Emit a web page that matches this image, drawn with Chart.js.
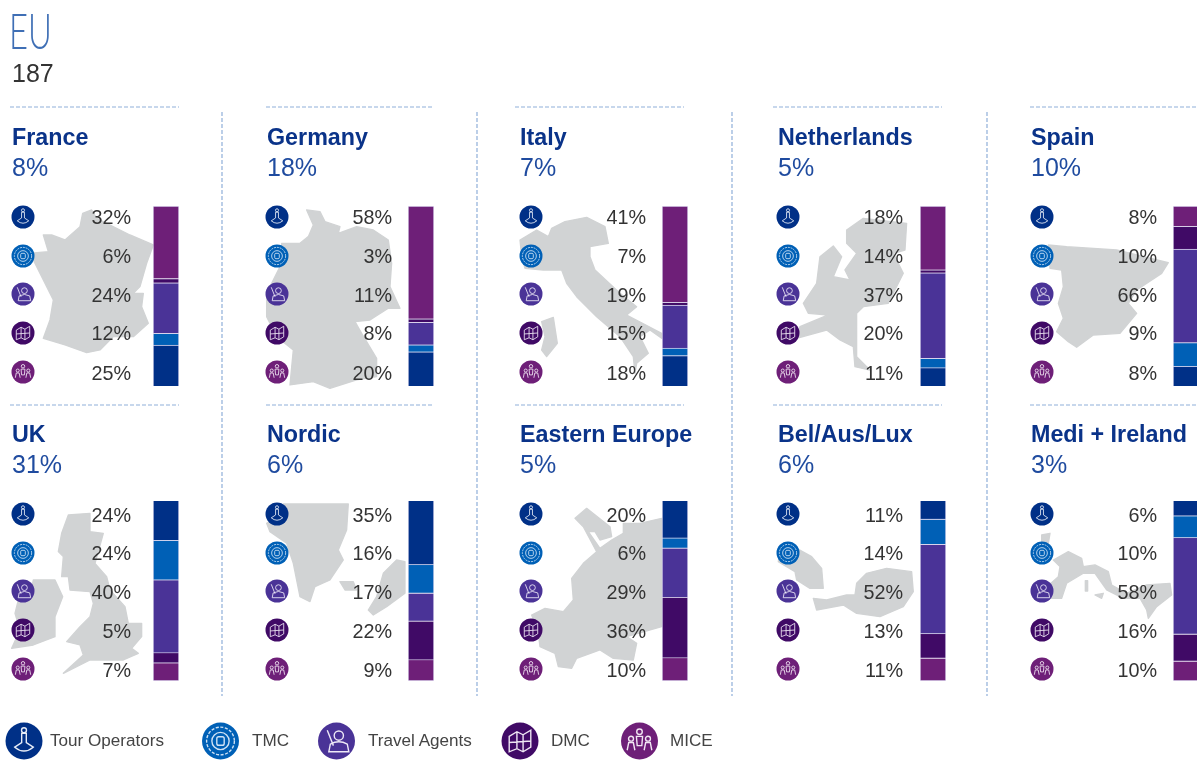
<!DOCTYPE html>
<html>
<head>
<meta charset="utf-8">
<title>EU 187</title>
<script src="https://cdn.jsdelivr.net/npm/chart.js@4"></script>
<style>
  html, body { margin: 0; padding: 0; width: 1197px; height: 760px; overflow: hidden; background: #fff; }
  body { position: relative; font-family: "Liberation Sans", Arial, sans-serif; }
  .t { position: absolute; white-space: nowrap; height: 30px; line-height: 30px; filter: blur(0.35px); }
  .name { font-size: 23.3px; font-weight: bold; color: #0a3389; }
  .share { font-size: 25px; color: #1f4b9f; }
  .pct { font-size: 19.8px; color: #333; text-align: right; width: 60px; }
  .leg { font-size: 17.1px; color: #444; }
  canvas { position: absolute; display: block; filter: blur(0.3px); }
  svg.layer { position: absolute; left: 0; top: 0; filter: blur(0.35px); }
  #eu { position: absolute; left: 9px; top: 6px; height: 48px; font-family: Lato, "Open Sans", sans-serif; font-weight: 300; font-size: 49px; line-height: 48px; color: #3f6fb5; transform-origin: left top; transform: scaleX(.67); }
  #total { left: 12px; top: 58px; font-size: 25px; color: #333; }
</style>
</head>
<body>
<svg class="layer" width="1197" height="760" id="back"></svg>
<div id="eu">EU</div>
<div id="total" class="t">187</div>
<svg class="layer" width="1197" height="760" id="front">
  <defs>
    <symbol id="ico0" viewBox="-12 -12 24 24" overflow="visible">
      <g fill="none" stroke="#e6ecf7" stroke-width="0.9">
        <circle cx="0" cy="-7" r="1.6"/><path d="M-1.5 -5 L-1.5 1 L-6 4 Q0 9 6 4 L1.5 1 L1.5 -5 Z"/>
      </g>
    </symbol>
    <symbol id="ico1" viewBox="-12 -12 24 24" overflow="visible">
      <g fill="none" stroke="#cfe2f5" stroke-width="0.9">
        <circle r="9" stroke-dasharray="2 1"/><circle r="5.6"/><rect x="-2.4" y="-2.8" width="4.8" height="5.6" rx="1.2"/>
      </g>
    </symbol>
    <symbol id="ico2" viewBox="-12 -12 24 24" overflow="visible">
      <g fill="none" stroke="#eee9f7" stroke-width="0.9">
        <circle cx="1.5" cy="-3.5" r="3"/><path d="M-5 7 L-4 2 Q1.5 -1 7 2 L8 7 Z"/><path d="M-6 -7 L-2 3"/>
      </g>
    </symbol>
    <symbol id="ico3" viewBox="-12 -12 24 24" overflow="visible">
      <g fill="none" stroke="#eee6f3" stroke-width="0.9">
        <path d="M-7 -3 L-2 -6 L2 -4 L7 -7 L7 4 L2 7 L-2 5 L-7 7 Z M-2 -6 L-2 5 M2 -4 L2 7 M-7 1 L7 0"/>
      </g>
    </symbol>
    <symbol id="ico4" viewBox="-12 -12 24 24" overflow="visible">
      <g fill="none" stroke="#f1e6f3" stroke-width="0.9">
        <circle cx="0" cy="-6" r="1.8"/><circle cx="-5.5" cy="-1.5" r="1.6"/><circle cx="5.5" cy="-1.5" r="1.6"/>
        <path d="M-2 -3 L2 -3 L1.5 3 L-1.5 3 Z M-8 6 L-7 1 L-4 1 L-3 6 M3 6 L4 1 L7 1 L8 6"/>
      </g>
    </symbol>
  </defs>
</svg>

<script>
// values
const regions = ['France', 'Germany', 'Italy', 'Netherlands', 'Spain', 'UK', 'Nordic', 'Eastern Europe', 'Bel/Aus/Lux', 'Medi + Ireland'];
const regionShares = ['8%', '18%', '7%', '5%', '10%', '31%', '6%', '5%', '6%', '3%'];
const channels = ['Tour Operators', 'TMC', 'Travel Agents', 'DMC', 'MICE'];

// printed figures, one per channel row
const france = ['32%', '6%', '24%', '12%', '25%'];
const germany = ['58%', '3%', '11%', '8%', '20%'];
const italy = ['41%', '7%', '19%', '15%', '18%'];
const netherlands = ['18%', '14%', '37%', '20%', '11%'];
const spain = ['8%', '10%', '66%', '9%', '8%'];
const uk = ['24%', '24%', '40%', '5%', '7%'];
const nordic = ['35%', '16%', '17%', '22%', '9%'];
const easternEurope = ['20%', '6%', '29%', '36%', '10%'];
const belAusLux = ['11%', '14%', '52%', '13%', '11%'];
const medi = ['6%', '10%', '58%', '16%', '10%'];
const printed = [france, germany, italy, netherlands, spain, uk, nordic, easternEurope, belAusLux, medi];

// segment heights of the bars as drawn (they do not follow the printed figures), TO, TMC, TA, DMC, MICE
const franceBar = [22.8, 6.5, 28, 2.4, 40.3];
const germanyBar = [19, 3.9, 12.5, 1.9, 62.7];
const italyBar = [16.9, 4.1, 24, 1.5, 53.5];
const netherlandsBar = [10.2, 5.2, 47.5, 1.7, 35.4];
const spainBar = [10.9, 13.2, 52, 12.6, 11.3];
const ukBar = [22, 22, 40.4, 5.6, 9.9];
const nordicBar = [35.5, 15.9, 15.5, 21.5, 11.6];
const easternEuropeBar = [20.7, 5.6, 27.3, 33.6, 12.7];
const belAusLuxBar = [10.3, 14, 49.5, 13.6, 12.5];
const mediBar = [8.4, 12.1, 53.6, 15, 10.8];
const bars = [franceBar, germanyBar, italyBar, netherlandsBar, spainBar, ukBar, nordicBar, easternEuropeBar, belAusLuxBar, mediBar];

const channelColors = ['#003087', '#0060b6', '#4a3397', '#400a66', '#6e1f78'];

// layout
const titleX = [12, 267, 520, 778, 1031];
const iconX = [23, 277, 531, 788, 1042];
const pctRight = [131, 392, 646, 903, 1157];
const barX = [153, 408, 662, 920, 1173];
const ruleX = [[10, 179], [266, 434], [515, 684], [773, 942], [1030, 1197]];
const rowLayout = [
  { rule: 107, name: 137, share: 167, rows: [217, 256, 294, 333, 372], pcts: [217, 256, 295, 333, 373], barTop: 206 },
  { rule: 405, name: 434, share: 464, rows: [514, 553, 591, 630, 669], pcts: [515, 553, 592, 631, 670], barTop: 501 }
];

// country outlines, traced in 3x crop pixels: [offsetX, offsetY, path]
const maps = [
  [0, 0, 'M248 640L275 630L290 655L390 705L460 735L440 790L420 860L400 880L430 880L425 920L445 970L400 1010L340 1010L300 1050L260 1058L195 1035L130 1015L150 960L160 900L130 840L100 780L85 760L145 755L130 705L155 705L195 720L240 680Z'],
  [0, 0, 'M920 630L960 635L975 665L1020 680L1015 700L1070 680L1120 690L1165 720L1175 790L1170 860L1200 925L1165 925L1110 960L1065 965L1085 1000L1130 1075L1130 1130L1070 1140L990 1165L940 1145L870 1155L880 1050L830 1010L800 950L800 880L820 840L850 780L845 730L900 730L925 710L940 675Z'],
  [480, 190, 'M120 150L170 120L205 140L215 115L255 95L320 82L375 110L385 160L330 170L330 200L345 240L420 310L470 350L440 375L545 430L545 445L510 420L480 440L505 490L470 520L465 550L460 500L420 440L350 380L290 320L260 280L245 240L190 240L135 235L125 200Z M185 395L220 382L232 460L200 500L185 480L195 440Z'],
  [480, 190, 'M1100 120L1150 85L1280 100L1275 180L1240 190L1270 250L1225 340L1150 350L1130 370L1130 500L1170 540L1125 530L1120 470L1080 450L1040 420L950 445L960 410L1045 375L985 370L970 340L1010 280L1020 200L1060 168L1085 200L1060 260L1110 270L1095 240L1130 190L1100 160Z'],
  [980, 190, 'M205 165L260 170L410 180L565 218L545 250L470 300L445 340L470 370L420 430L340 435L290 472L265 455L230 425L250 385L235 340L250 290L245 240L210 235Z'],
  [0, 400, 'M205 345L270 340L270 395L310 400L285 490L320 530L330 570L375 620L385 670L425 670L425 710L395 745L415 760L370 780L270 780L190 820L250 765L240 735L200 725L240 680L270 650L280 610L270 575L210 570L205 530L185 530L190 470L175 455L185 400Z M100 540L165 540L188 590L165 650L165 710L100 735L35 745L60 690L45 640L55 600L90 590Z'],
  [0, 400, 'M850 312L1045 312L1040 390L1015 450L1030 480L990 540L945 560L930 605L900 590L880 490L860 430L810 395L800 370L830 350Z M1190 480L1215 485L1215 580L1160 620L1120 645L1105 630L1130 590L1150 520Z M1020 545L1060 545L1070 570L1035 570Z'],
  [480, 490, 'M285 85L320 55L390 110L395 140L360 150L345 125L325 125L360 175L395 150L430 130L430 100L480 100L545 85L545 410L440 440L470 460L460 510L400 505L360 480L290 505L275 535L235 530L225 490L180 470L175 430L155 375L195 355L250 365L280 330L275 265L310 220L350 185L310 110Z'],
  [480, 490, 'M895 215L900 185L950 175L995 200L1025 235L1030 295L990 295L950 270L945 245Z M1000 325L1040 330L1100 315L1125 315L1130 280L1160 250L1220 235L1295 245L1300 305L1270 350L1200 380L1130 370L1090 345L1010 360Z'],
  [980, 190, 'M190 1200L235 1160L240 1130L220 1110L265 1085L305 1105L310 1130L345 1125L385 1145L395 1185L440 1210L500 1185L570 1180L575 1215L530 1250L505 1285L500 1260L480 1225L430 1225L380 1200L345 1150L310 1150L260 1180L245 1225L190 1225Z M185 1035L210 1030L205 1060L185 1060Z M316 1172L323 1172L323 1203L316 1203Z M345 1215L370 1210L365 1225Z']
];

const back = document.getElementById('back');
const front = document.getElementById('front');
const NS = 'http://www.w3.org/2000/svg';

function svgEl(parent, tag, attrs) {
  const el = document.createElementNS(NS, tag);
  Object.keys(attrs).forEach((k) => el.setAttribute(k, attrs[k]));
  parent.appendChild(el);
  return el;
}

function addText(cls, text, left, top) {
  const d = document.createElement('div');
  d.className = 't ' + cls;
  d.textContent = text;
  d.style.left = left + 'px';
  d.style.top = top + 'px';
  document.body.appendChild(d);
}

function addIcon(type, cx, cy, r) {
  svgEl(front, 'circle', { cx: cx, cy: cy, r: r, fill: channelColors[type] });
  svgEl(front, 'use', { href: '#ico' + type, x: cx - r, y: cy - r, width: 2 * r, height: 2 * r });
}

// dashed dividers
const dash = { stroke: '#8fafd9', 'stroke-width': 1.2, 'stroke-dasharray': '4 2', fill: 'none' };
rowLayout.forEach((row) => {
  ruleX.forEach((x) => svgEl(back, 'line', Object.assign({ x1: x[0], x2: x[1], y1: row.rule, y2: row.rule }, dash)));
});
[222, 477, 732, 987].forEach((x) => {
  svgEl(back, 'line', Object.assign({ x1: x, x2: x, y1: 112, y2: 696 }, dash));
});

maps.forEach((m) => {
  svgEl(back, 'path', {
    d: m[2], fill: '#d1d3d4', stroke: '#d1d3d4', 'stroke-width': 4, 'stroke-linejoin': 'round',
    transform: 'translate(' + m[0] + ' ' + m[1] + ') scale(0.3333)'
  });
});

function drawBar(index, left, top, reversed) {
  const canvas = document.createElement('canvas');
  canvas.style.left = left + 'px';
  canvas.style.top = top + 'px';
  canvas.width = 26;
  canvas.height = 180;
  canvas.style.width = '26px';
  canvas.style.height = '180px';
  document.body.appendChild(canvas);

  const values = bars[index];
  const total = values.reduce((a, b) => a + b, 0);

  new Chart(canvas, {
    type: 'bar',
    data: {
      labels: [regions[index]],
      datasets: channels.map((label, i) => ({
        label: label,
        data: [values[i]],
        backgroundColor: channelColors[i],
        borderColor: 'rgba(205,198,232,0.6)',
        borderWidth: 1,
        barPercentage: 1,
        categoryPercentage: 1
      }))
    },
    options: {
      responsive: false,
      animation: false,
      maintainAspectRatio: false,
      layout: { padding: 0 },
      plugins: { legend: { display: false }, tooltip: { enabled: false } },
      scales: {
        x: { stacked: true, display: false },
        y: { stacked: true, display: false, min: 0, max: total, reverse: reversed }
      }
    }
  });
}

regions.forEach((name, i) => {
  const col = i % 5;
  const row = rowLayout[i < 5 ? 0 : 1];
  addText('name', name, titleX[col], row.name - 15);
  addText('share', regionShares[i], titleX[col], row.share - 15);
  printed[i].forEach((txt, r) => {
    addIcon(r, iconX[col], row.rows[r], 11.5);
    addText('pct', txt, pctRight[col] - 60, row.pcts[r] - 15);
  });
  // top row stacks TO at the bottom, bottom row stacks TO at the top
  drawBar(i, barX[col], row.barTop, i >= 5);
});

// legend strip
const legendIconX = [24, 220.5, 336.5, 520, 639.5];
const legendTextX = [50, 252, 368, 551, 670];
channels.forEach((label, i) => {
  addIcon(i, legendIconX[i], 741, 18.5);
  addText('leg', label, legendTextX[i], 726);
});
</script>
</body>
</html>
